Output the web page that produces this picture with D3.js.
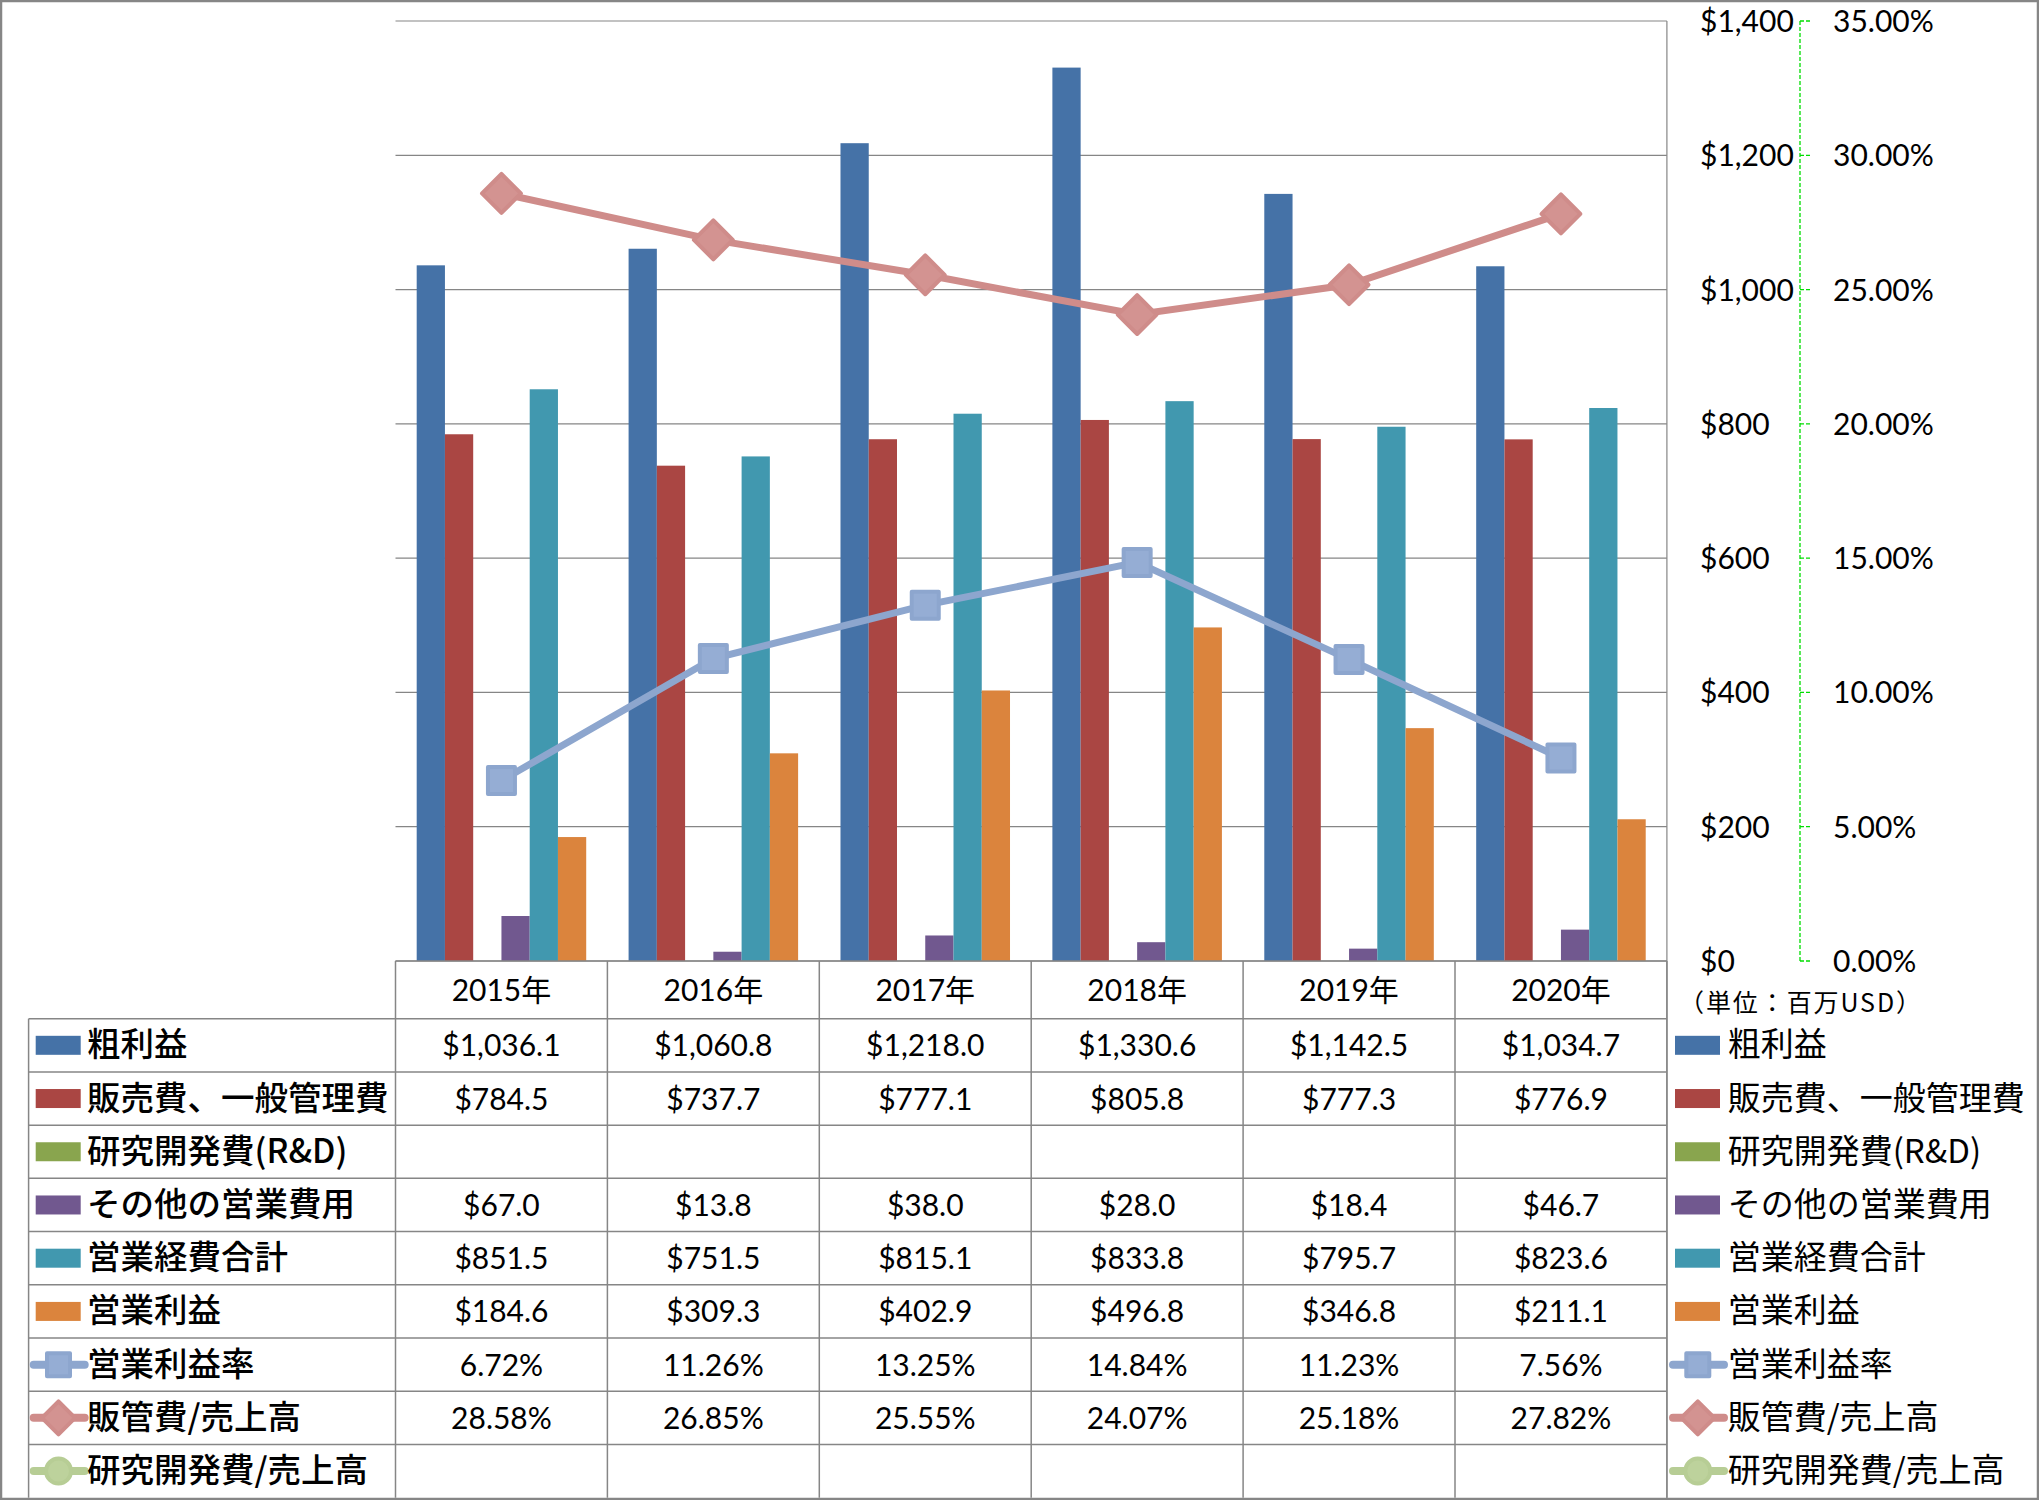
<!DOCTYPE html>
<html><head><meta charset="utf-8">
<script src="https://cdn.jsdelivr.net/npm/d3@7"></script>
<style>body{margin:0;background:#fff}svg{display:block}</style>
</head><body>
<svg id="c" width="2039" height="1500"></svg>
<script>
const years = ["2015年","2016年","2017年","2018年","2019年","2020年"];
const grossProfit = [1036.1, 1060.8, 1218.0, 1330.6, 1142.5, 1034.7];
const sga = [784.5, 737.7, 777.1, 805.8, 777.3, 776.9];
const rnd = [null, null, null, null, null, null];
const otherOpex = [67.0, 13.8, 38.0, 28.0, 18.4, 46.7];
const totalOpex = [851.5, 751.5, 815.1, 833.8, 795.7, 823.6];
const opIncome = [184.6, 309.3, 402.9, 496.8, 346.8, 211.1];
const opMargin = [6.72, 11.26, 13.25, 14.84, 11.23, 7.56];
const sgaRatio = [28.58, 26.85, 25.55, 24.07, 25.18, 27.82];
const rndRatio = [null, null, null, null, null, null];
const leftTicks = [0, 200, 400, 600, 800, 1000, 1200, 1400];
const rightTicks = [0, 5, 10, 15, 20, 25, 30, 35];
const unitLabel = "（単位：百万USD）";

const barSeries = [
  {name:"粗利益", values:grossProfit, color:"#4572A7"},
  {name:"販売費、一般管理費", values:sga, color:"#AA4643"},
  {name:"研究開発費(R&D)", values:rnd, color:"#89A54E"},
  {name:"その他の営業費用", values:otherOpex, color:"#71588F"},
  {name:"営業経費合計", values:totalOpex, color:"#4198AF"},
  {name:"営業利益", values:opIncome, color:"#DB843D"}
];
const lineSeries = [
  {name:"営業利益率", values:opMargin, color:"#8DA6CE", fill:"#95ADD4", shape:"square"},
  {name:"販管費/売上高", values:sgaRatio, color:"#CF8C8A", fill:"#D39391", shape:"diamond"},
  {name:"研究開発費/売上高", values:rndRatio, color:"#B7CD95", fill:"#BDD29C", shape:"circle"}
];

const svg = d3.select("#c");
const GRID = "#868686";
const LATIN = "Lato, 'Noto Sans CJK JP', sans-serif";
const CJK = "'Noto Sans CJK JP', sans-serif";

const plotL = 395.5, plotR = 1666.9, plotT = 21, plotB = 961;
const x = d3.scaleBand().domain(years).range([plotL, plotR]);
const xi = d3.scaleBand().domain(d3.range(barSeries.length)).range([0, x.bandwidth()]).paddingInner(0).paddingOuter(0.75);
const yL = d3.scaleLinear().domain([0, 1400]).range([plotB, plotT]);
const yR = d3.scaleLinear().domain([0, 35]).range([plotB, plotT]);

svg.append("g").selectAll("line").data(leftTicks).join("line")
  .attr("x1", plotL).attr("x2", plotR)
  .attr("y1", d => yL(d)).attr("y2", d => yL(d))
  .attr("stroke", GRID).attr("stroke-width", 1.2);

const bars = svg.append("g");
barSeries.forEach((s, si) => {
  bars.append("g").selectAll("rect").data(s.values.map((v, i) => ({v, i})).filter(d => d.v != null)).join("rect")
    .attr("x", d => x(years[d.i]) + xi(si))
    .attr("width", xi.bandwidth())
    .attr("y", d => yL(d.v))
    .attr("height", d => yL(0) - yL(d.v))
    .attr("fill", s.color);
});

function marker(g, shape, cx, cy, size, color, fill, sw) {
  if (shape === "square") {
    g.append("rect").attr("x", cx - size/2).attr("y", cy - size/2).attr("width", size).attr("height", size)
      .attr("fill", fill).attr("stroke", color).attr("stroke-width", sw).attr("stroke-linejoin", "round");
  } else if (shape === "diamond") {
    const r = size * 0.72;
    g.append("path").attr("d", `M${cx},${cy-r}L${cx+r},${cy}L${cx},${cy+r}L${cx-r},${cy}Z`)
      .attr("fill", fill).attr("stroke", color).attr("stroke-width", sw).attr("stroke-linejoin", "round");
  } else {
    g.append("circle").attr("cx", cx).attr("cy", cy).attr("r", size/2 + 1)
      .attr("fill", fill).attr("stroke", color).attr("stroke-width", sw);
  }
}

const lineGen = d3.line().defined(d => d.v != null).x(d => x(years[d.i]) + x.bandwidth()/2).y(d => yR(d.v));
lineSeries.forEach(s => {
  const pts = s.values.map((v, i) => ({v, i}));
  const g = svg.append("g");
  g.append("path").attr("d", lineGen(pts)).attr("fill", "none").attr("stroke", s.color).attr("stroke-width", 7);
  pts.filter(d => d.v != null).forEach(d => marker(g, s.shape, x(years[d.i]) + x.bandwidth()/2, yR(d.v), 27, s.color, s.fill, 4));
});

svg.append("line").attr("x1", plotR).attr("x2", plotR).attr("y1", plotT).attr("y2", 1498)
  .attr("stroke", GRID).attr("stroke-width", 1.2);

const axX = 1800;
svg.append("line").attr("x1", axX).attr("x2", axX).attr("y1", plotT).attr("y2", plotB)
  .attr("stroke", "#00DD00").attr("stroke-width", 1.3).attr("stroke-dasharray", "4,2");
svg.append("g").selectAll("line").data(rightTicks).join("line")
  .attr("x1", axX).attr("x2", axX + 12).attr("y1", d => yR(d)).attr("y2", d => yR(d))
  .attr("stroke", "#00DD00").attr("stroke-width", 1.3).attr("stroke-dasharray", "4,2");

const fmtD = d3.format("$,.0f");
svg.append("g").selectAll("text").data(leftTicks).join("text")
  .attr("x", 1700).attr("y", d => yL(d) + 11)
  .attr("font-family", LATIN).attr("font-size", 30).attr("fill", "#000")
  .text(d => fmtD(d));
svg.append("g").selectAll("text").data(rightTicks).join("text")
  .attr("x", 1833).attr("y", d => yR(d) + 11)
  .attr("font-family", LATIN).attr("font-size", 30).attr("fill", "#000")
  .text(d => d3.format(".2f")(d) + "%");
svg.append("text").attr("x", 1679).attr("y", 1012)
  .attr("font-family", CJK).attr("font-size", 25).attr("fill", "#000")
  .attr("textLength", 242).attr("lengthAdjust", "spacing").text(unitLabel);

const tableL = 28.6, headT = plotB, headB = 1018.7, tableB = 1497.7;
const rows = [...barSeries.map(s => ({...s, type:"bar"})), ...lineSeries.map(s => ({...s, type:"line"}))];
const yRow = d3.scaleBand().domain(d3.range(rows.length)).range([headB, tableB]);
const tg = svg.append("g");
tg.append("line").attr("x1", plotL).attr("x2", plotR).attr("y1", headT).attr("y2", headT).attr("stroke", GRID).attr("stroke-width", 1.5);
tg.selectAll("line.h").data(d3.range(rows.length)).join("line").attr("class", "h")
  .attr("x1", tableL).attr("x2", plotR)
  .attr("y1", d => yRow(d)).attr("y2", d => yRow(d))
  .attr("stroke", GRID).attr("stroke-width", 1.5);
tg.selectAll("line.v").data(d3.range(years.length + 1)).join("line").attr("class", "v")
  .attr("x1", d => plotL + d * x.step()).attr("x2", d => plotL + d * x.step())
  .attr("y1", headT).attr("y2", tableB)
  .attr("stroke", GRID).attr("stroke-width", 1.5);
tg.append("line").attr("x1", tableL).attr("x2", tableL).attr("y1", headB).attr("y2", tableB).attr("stroke", GRID).attr("stroke-width", 1.5);

tg.selectAll("text.yr").data(years).join("text").attr("class", "yr")
  .attr("x", d => x(d) + x.bandwidth()/2).attr("y", (headT + headB)/2 + 11)
  .attr("text-anchor", "middle").attr("font-family", LATIN).attr("font-size", 30).text(d => d);

const fmtV = d3.format("$,.1f");
rows.forEach((r, ri) => {
  const cy = yRow(ri) + yRow.bandwidth()/2;
  r.values.forEach((v, i) => {
    if (v == null) return;
    tg.append("text").attr("x", x(years[i]) + x.bandwidth()/2).attr("y", cy + 11)
      .attr("text-anchor", "middle").attr("font-family", LATIN).attr("font-size", 30)
      .text(r.type === "bar" ? fmtV(v) : d3.format(".2f")(v) + "%");
  });
  [{x0:35.7, tx:87, fs:33.5, fw:500}, {x0:1675, tx:1727.7, fs:33, fw:400}].forEach(k => {
    if (r.type === "bar") {
      tg.append("rect").attr("x", k.x0).attr("y", cy - 9.5).attr("width", 45).attr("height", 19).attr("fill", r.color);
    } else {
      tg.append("line").attr("x1", k.x0 - 2).attr("x2", k.x0 + 49).attr("y1", cy).attr("y2", cy)
        .attr("stroke", r.color).attr("stroke-width", 8).attr("stroke-linecap", "round");
      marker(tg, r.shape, k.x0 + 22.8, cy, 23, r.color, r.fill, 4);
    }
    tg.append("text").attr("x", k.tx).attr("y", cy + 11)
      .attr("font-family", CJK).attr("font-size", k.fs).attr("font-weight", k.fw).attr("fill", "#000").text(r.name);
  });
});

svg.append("rect").attr("x", 1).attr("y", 1).attr("width", 2037).attr("height", 1498)
  .attr("fill", "none").attr("stroke", GRID).attr("stroke-width", 2.5);
</script>
</body></html>
